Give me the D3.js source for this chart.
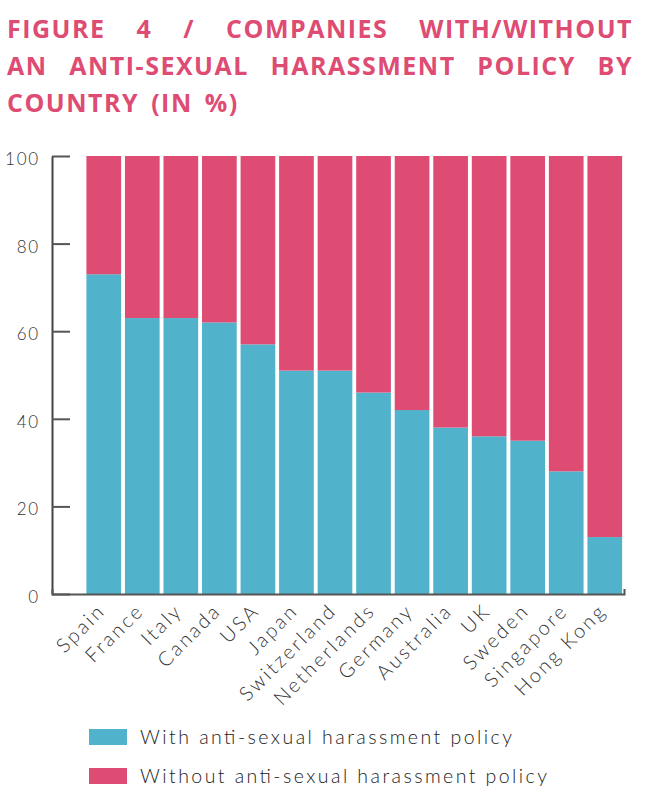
<!DOCTYPE html>
<html>
<head>
<meta charset="utf-8">
<script src="https://cdn.jsdelivr.net/npm/d3@7"></script>
<style>
  html, body { margin: 0; padding: 0; background: #fff; }
  svg { display: block; }
</style>
</head>
<body>
<svg id="chart" width="647" height="800"></svg>
<script>
const titleLines = ["FIGURE 4 / COMPANIES WITH/WITHOUT", "AN ANTI-SEXUAL HARASSMENT POLICY BY", "COUNTRY (IN %)"];
const countries = ["Spain", "France", "Italy", "Canada", "USA", "Japan", "Switzerland", "Netherlands", "Germany", "Australia", "UK", "Sweden", "Singapore", "Hong Kong"];
const withPolicy = [73, 63, 63, 62, 57, 51, 51, 46, 42, 38, 36, 35, 28, 13];
const withoutPolicy = [27, 37, 37, 38, 43, 49, 49, 54, 58, 62, 64, 65, 72, 87];
const yTicks = [0, 20, 40, 60, 80, 100];
const seriesNames = ["With anti-sexual harassment policy", "Without anti-sexual harassment policy"];
const seriesColors = ["#50B3CB", "#DE4B73"];

const svg = d3.select("#chart");
const labelFont = "Lato, 'Open Sans', sans-serif";

// Title (justified lines)
const titleG = svg.append("g").attr("fill", "#DE4B73")
  .style("font-family", "'Open Sans', Lato, sans-serif").style("font-weight", "700")
  .style("font-size", "25px").style("letter-spacing", "1.5px");
const tLeft = 7, tRight = 633, baselines = [38, 75, 112];
titleLines.forEach((line, i) => {
  const words = line.split(" ");
  const nodes = words.map(w => titleG.append("text").attr("y", baselines[i]).text(w));
  const widths = nodes.map(n => n.node().getComputedTextLength());
  const justify = i < titleLines.length - 1;
  const total = d3.sum(widths);
  const gap = justify ? (tRight - tLeft - total) / (words.length - 1) : 12;
  let x = tLeft;
  nodes.forEach((n, j) => { n.attr("x", x); x += widths[j] + gap; });
});

// Scales
const y = d3.scaleLinear().domain([0, 100]).range([594, 156]);
const x = d3.scaleBand().domain(countries).range([52, 624])
  .paddingInner(0.1).paddingOuter(0.471).align(0.948);

const data = countries.map((c, i) => ({country: c, w: withPolicy[i], wo: withoutPolicy[i]}));
const stack = d3.stack().keys(["w", "wo"]);
const layers = stack(data);

svg.append("g").selectAll("g").data(layers).join("g")
  .attr("fill", (d, i) => seriesColors[i])
  .selectAll("rect").data(d => d).join("rect")
  .attr("x", d => x(d.data.country))
  .attr("width", x.bandwidth())
  .attr("y", d => y(d[1]))
  .attr("height", d => y(d[0]) - y(d[1]));

// Y axis
const yAxis = svg.append("g").attr("transform", "translate(52,0)")
  .call(d3.axisLeft(y).tickValues(yTicks).tickSize(-18).tickSizeOuter(0).tickPadding(12));
yAxis.select(".domain").attr("stroke", "#444").attr("stroke-width", 2);
yAxis.selectAll(".tick line").attr("stroke", "#555").attr("stroke-width", 2);
yAxis.selectAll(".tick text").attr("fill", "#333")
  .style("font-family", labelFont).style("font-weight", "300")
  .style("font-size", "17px").style("letter-spacing", "1.8px")
  .attr("dy", "0.5em");

// X axis
const xAxis = svg.append("g").attr("transform", "translate(0,594)")
  .call(d3.axisBottom(x).tickSize(0).tickSizeOuter(-5).tickPadding(0));
xAxis.select(".domain").attr("stroke", "#555").attr("stroke-width", 2);
xAxis.selectAll(".tick text")
  .attr("fill", "#333")
  .style("font-family", labelFont).style("font-weight", "300")
  .style("font-size", "20px").style("letter-spacing", "2.6px")
  .attr("text-anchor", "end")
  .attr("transform", "translate(-2,13) rotate(-45)")
  .attr("dy", "0.35em");

// Legend
const legend = svg.append("g");
const legY = [729, 768];
const legLen = [372, 407];
seriesNames.forEach((name, i) => {
  legend.append("rect").attr("x", 89).attr("y", legY[i]).attr("width", 38).attr("height", 16)
    .attr("fill", seriesColors[i]);
  legend.append("text").attr("x", 140).attr("y", legY[i] + 15)
    .attr("fill", "#222")
    .attr("textLength", legLen[i]).attr("lengthAdjust", "spacing")
    .style("font-family", labelFont).style("font-weight", "300").style("font-size", "19.5px")
    .text(name);
});
</script>
</body>
</html>
